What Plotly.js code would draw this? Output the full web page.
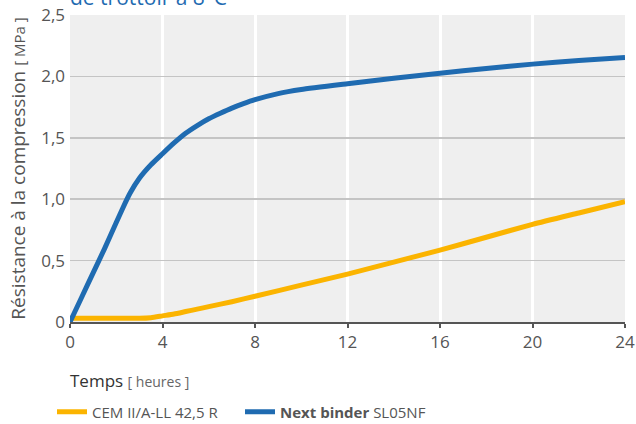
<!DOCTYPE html>
<html>
<head>
<meta charset="utf-8">
<script src="https://cdn.plot.ly/plotly-3.0.1.min.js"></script>
<style>html,body{margin:0;padding:0;background:#fff;}#chart{width:636px;height:424px;}</style>
</head>
<body>
<div id="chart"></div>
<script>
// Data (hours, MPa)
const cemHours   = [0, 1, 2, 3, 3.5, 4, 4.5, 5, 5.5, 6, 7, 8, 10, 12, 14, 16, 18, 20, 22, 24];
const cemValues  = [0.03, 0.03, 0.03, 0.03, 0.035, 0.05, 0.065, 0.085, 0.105, 0.125, 0.165, 0.21, 0.30, 0.39, 0.488, 0.585, 0.69, 0.795, 0.888, 0.98];
const nextHours  = [0, 0.5, 1, 1.5, 2.0, 2.3, 2.6, 3.0, 3.5, 4.0, 4.5, 5.0, 5.5, 6.0, 6.5, 7.0, 7.5, 8.0, 9.0, 10, 12, 14, 16, 18, 20, 22, 24];
const nextValues = [0, 0.20, 0.40, 0.60, 0.81, 0.935, 1.05, 1.17, 1.28, 1.37, 1.458, 1.537, 1.60, 1.655, 1.70, 1.742, 1.778, 1.81, 1.86, 1.893, 1.94, 1.985, 2.026, 2.065, 2.10, 2.13, 2.155];
const xTickVals = [0, 4, 8, 12, 16, 20, 24];
const yTickVals = [0, 0.5, 1.0, 1.5, 2.0, 2.5];
const yTickLabels = ['0', '0,5', '1,0', '1,5', '2,0', '2,5'];
const seriesNames = ['CEM II/A-LL 42,5 R', '<b>Next binder</b> SL05NF'];

const FONT = 'Open Sans, Noto Sans, sans-serif';
const GREY = '#555555';

const traces = [
  {x: cemHours, y: cemValues, name: seriesNames[0], mode: 'lines',
   line: {color: '#fbb400', width: 5, shape: 'spline', smoothing: 0.6}},
  {x: nextHours, y: nextValues, name: seriesNames[1], mode: 'lines',
   line: {color: '#1f6bb1', width: 5, shape: 'spline', smoothing: 0.5}}
];

const layout = {
  width: 636, height: 424,
  margin: {l: 69.5, r: 11, t: 14.7, b: 101.7, autoexpand: false},
  paper_bgcolor: '#ffffff',
  plot_bgcolor: '#efefef',
  font: {family: FONT, color: GREY, size: 17},
  showlegend: true,
  title: {
    text: 'de trottoir à 8°C',
    font: {family: FONT, size: 21, color: '#1f6bb1'},
    xref: 'paper', x: 0, xanchor: 'left',
    yref: 'container', y: 0.988, yanchor: 'bottom'
  },
  xaxis: {
    range: [0, 24], tickvals: xTickVals, ticktext: xTickVals.map(String),
    showgrid: true, gridcolor: '#ffffff', gridwidth: 3,
    zeroline: false, showline: true, linecolor: '#555555', linewidth: 2,
    ticks: 'outside', ticklen: 4, tickwidth: 2, tickcolor: '#555555',
    tickfont: {family: FONT, size: 17, color: GREY}, fixedrange: true
  },
  yaxis: {
    range: [0, 2.5], tickvals: yTickVals, ticktext: yTickLabels,
    showgrid: true, gridcolor: '#c4c4c4', gridwidth: 1.5,
    zeroline: false, showline: false, ticks: '', ticklabelstandoff: 4,
    tickfont: {family: FONT, size: 17, color: GREY},
    title: {text: 'Résistance à la compression <span style="font-size:15px">[ MPa ]</span>',
            font: {family: FONT, size: 19, color: GREY}, standoff: 10},
    automargin: false,
    fixedrange: true
  },
  annotations: [{
    xref: 'paper', yref: 'paper', x: -0.003, y: -0.19, xanchor: 'left', yanchor: 'middle',
    showarrow: false,
    text: '<span style="color:#333333">Temps</span> <span style="font-size:14px;color:#666666">[ heures ]</span>',
    font: {family: FONT, size: 17, color: '#333333'}
  }],
  legend: {
    orientation: 'h', xref: 'container', x: 52/636, xanchor: 'left',
    yref: 'container', y: 1 - 412/424, yanchor: 'middle',
    font: {family: FONT, size: 15, color: GREY}, traceorder: 'normal',
    entrywidth: 143, entrywidthmode: 'pixels',
    bgcolor: 'rgba(0,0,0,0)'
  }
};

Plotly.newPlot('chart', traces, layout, {displayModeBar: false, staticPlot: true});
</script>
</body>
</html>
